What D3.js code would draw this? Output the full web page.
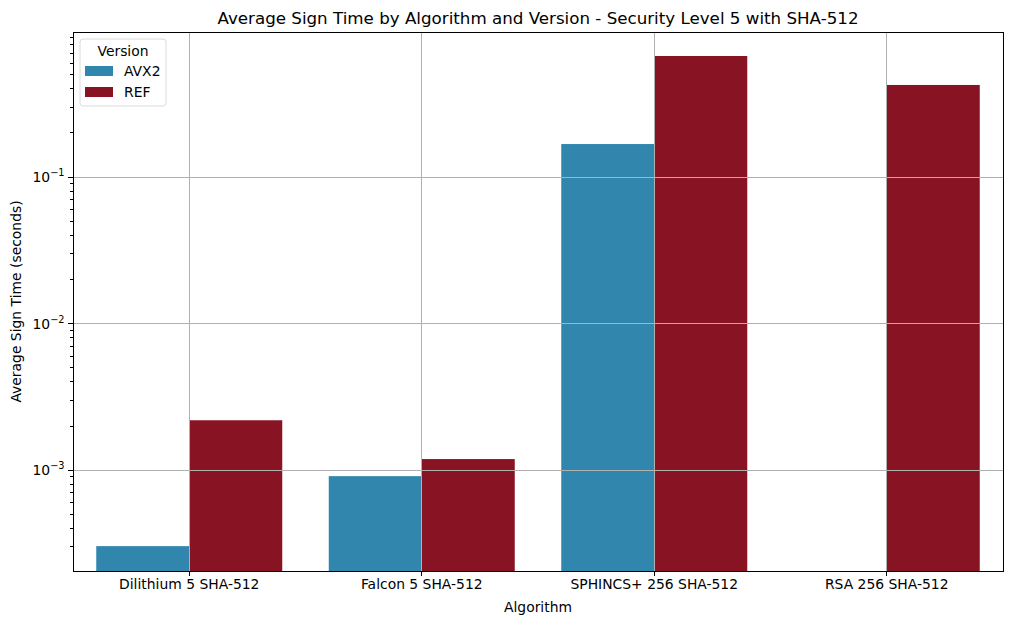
<!DOCTYPE html>
<html>
<head>
<meta charset="utf-8">
<script src="https://cdn.jsdelivr.net/npm/d3@7"></script>
<style>
	body { margin: 0; background: #fff; }
	svg { font-family: "DejaVu Sans", sans-serif; }
</style>
</head>
<body>
<svg id="chart" width="1012" height="624"></svg>
<script>
// chart data
var algorithms = ["Dilithium 5 SHA-512", "Falcon 5 SHA-512", "SPHINCS+ 256 SHA-512", "RSA 256 SHA-512"];
var versions = ["AVX2", "REF"];
var avx2Times = [0.000303, 0.00091, 0.168, null];
var refTimes = [0.00219, 0.00119, 0.67, 0.425];
var yTickValues = [1e-3, 1e-2, 1e-1];
var yTickExponents = ["\u22123", "\u22122", "\u22121"];
var colors = ["#3186ae", "#881323"];

(function(){
	var svg = d3.select("#chart");
	var left = 73, right = 1003, top = 32, bottom = 571;

	var x = d3.scaleBand()
		.domain(algorithms)
		.range([left, right])
		.paddingInner(0.2)
		.paddingOuter(0.1);

	var inner = d3.scaleBand()
		.domain(versions)
		.range([0, x.bandwidth()]);

	var y = d3.scaleLog()
		.domain([2.05e-4, 0.977])
		.range([bottom, top]);

	var series = [avx2Times, refTimes];

	// bars
	series.forEach(function(vals, si) {
		svg.append("g").selectAll("rect")
			.data(vals.map(function(v, i) { return {cat: algorithms[i], v: v}; }).filter(function(d) { return d.v != null; }))
			.enter().append("rect")
			.attr("x", function(d) { return x(d.cat) + inner(versions[si]); })
			.attr("width", inner.bandwidth())
			.attr("y", function(d) { return y(d.v); })
			.attr("height", function(d) { return bottom - y(d.v); })
			.attr("fill", colors[si]);
	});

	// grid
	var grid = svg.append("g").attr("stroke", "#b0b0b0").attr("stroke-width", 1)
		.attr("shape-rendering", "crispEdges");
	grid.selectAll("line.gx").data(algorithms).enter().append("line")
		.attr("x1", function(d) { return x(d) + x.bandwidth() / 2; })
		.attr("x2", function(d) { return x(d) + x.bandwidth() / 2; })
		.attr("y1", top).attr("y2", bottom);
	grid.selectAll("line.gy").data(yTickValues).enter().append("line")
		.attr("x1", left).attr("x2", right)
		.attr("y1", function(d) { return y(d); })
		.attr("y2", function(d) { return y(d); });

	// x axis
	var xAxis = d3.axisBottom(x).tickSize(4.9).tickPadding(3.5);
	var gx = svg.append("g").attr("transform", "translate(0," + bottom + ")").call(xAxis);
	gx.select(".domain").remove();
	gx.selectAll("line").attr("stroke", "#000").attr("stroke-width", 1).attr("shape-rendering", "crispEdges");
	gx.selectAll("text").attr("font-size", "13.9px").attr("fill", "#000").attr("font-family", "DejaVu Sans");

	// y axis: major ticks with superscript labels, minor ticks
	var minor = [];
	for (var e = -4; e <= 0; e++) {
		for (var m = 2; m <= 9; m++) {
			var v = m * Math.pow(10, e);
			if (v >= y.domain()[0] && v <= y.domain()[1]) minor.push(v);
		}
	}
	var gy = svg.append("g").attr("shape-rendering", "crispEdges");
	gy.selectAll("line.minor").data(minor).enter().append("line")
		.attr("x1", left - 2.8).attr("x2", left)
		.attr("y1", function(d) { return y(d); }).attr("y2", function(d) { return y(d); })
		.attr("stroke", "#000").attr("stroke-width", 1);
	gy.selectAll("line.major").data(yTickValues).enter().append("line")
		.attr("x1", left - 4.9).attr("x2", left)
		.attr("y1", function(d) { return y(d); }).attr("y2", function(d) { return y(d); })
		.attr("stroke", "#000").attr("stroke-width", 1);
	var lab = gy.selectAll("text").data(yTickValues).enter().append("text")
		.attr("x", left - 8.4)
		.attr("y", function(d) { return y(d) + 5; })
		.attr("text-anchor", "end")
		.attr("font-size", "13.9px");
	lab.append("tspan").text("10");
	lab.append("tspan").attr("dy", -6).attr("font-size", "9.8px").text(function(d, i) { return yTickExponents[i]; });

	// frame
	svg.append("rect")
		.attr("x", left).attr("y", top)
		.attr("width", right - left).attr("height", bottom - top)
		.attr("fill", "none").attr("stroke", "#000").attr("stroke-width", 1)
		.attr("shape-rendering", "crispEdges");

	// titles
	svg.append("text").attr("x", (left + right) / 2).attr("y", 24)
		.attr("text-anchor", "middle").attr("font-size", "16.7px")
		.text("Average Sign Time by Algorithm and Version - Security Level 5 with SHA-512");
	svg.append("text").attr("x", (left + right) / 2).attr("y", 612)
		.attr("text-anchor", "middle").attr("font-size", "13.9px")
		.text("Algorithm");
	svg.append("text")
		.attr("transform", "translate(21," + ((top + bottom) / 2) + ") rotate(-90)")
		.attr("text-anchor", "middle").attr("font-size", "13.9px")
		.text("Average Sign Time (seconds)");

	// legend
	var lg = svg.append("g").attr("transform", "translate(80,39)");
	lg.append("rect").attr("width", 86).attr("height", 67).attr("rx", 3)
		.attr("fill", "#fff").attr("fill-opacity", 0.8)
		.attr("stroke", "#d0d0d0").attr("stroke-width", 0.8);
	lg.append("text").attr("x", 43).attr("y", 17).attr("text-anchor", "middle")
		.attr("font-size", "13.9px").text("Version");
	versions.forEach(function(v, i) {
		lg.append("rect").attr("x", 5).attr("y", 27 + i * 21)
			.attr("width", 28).attr("height", 10).attr("fill", colors[i]);
		lg.append("text").attr("x", 44).attr("y", 37 + i * 21)
			.attr("font-size", "13.9px").text(v);
	});
})();
</script>
</body>
</html>
